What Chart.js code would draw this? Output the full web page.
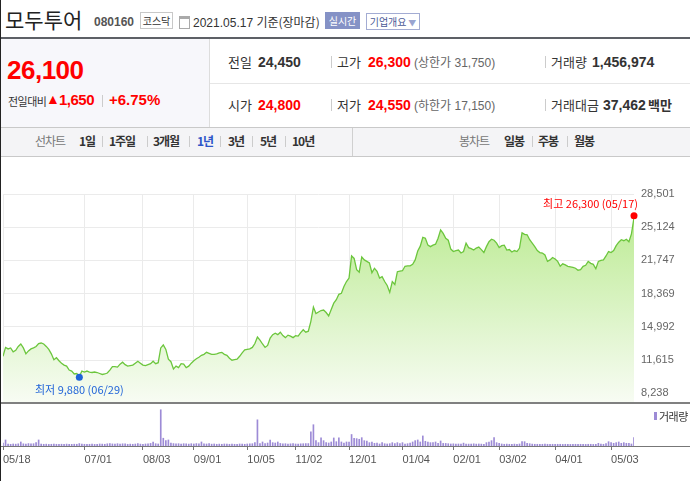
<!DOCTYPE html>
<html>
<head>
<meta charset="utf-8">
<script src="https://cdn.jsdelivr.net/npm/chart.js@4.4.1/dist/chart.umd.min.js"></script>
<style>
  body { margin: 0; width: 690px; height: 481px; overflow: hidden; background: #fff; position: relative;
         font-family: "Liberation Sans", "Noto Sans CJK KR", sans-serif; color: #333; }
  .a { position: absolute; white-space: nowrap; line-height: 16px; }
  .kr { font-family: "Noto Sans CJK KR", sans-serif; }
  .num { font-weight: bold; font-size: 14px; }
  .red { color: #f00; }
  .sep { position: absolute; width: 1px; background: #ccc; }
  .tab { position: absolute; top: 133px; font-size: 12px; line-height: 16px; font-weight: bold; letter-spacing: -1px; font-family: "Noto Sans CJK KR", sans-serif; color: #333; }
  .tab.g { font-weight: normal; color: #777; }
  .tab.on { color: #2d55c8; }
  canvas { position: absolute; left: 0; }
</style>
</head>
<body>
<!-- 상단 종목명 -->
<div class="a kr" style="left:5px;top:7px;font-size:21px;line-height:24px;color:#222">모두투어</div>
<div class="a" style="left:94px;top:14px;font-size:12px;font-weight:bold;color:#555">080160</div>
<div class="a kr" style="left:140px;top:12px;width:31px;height:15px;border:1px solid #c8c8c8;font-size:10px;line-height:15px;text-align:center">코스닥</div>
<div class="a" style="left:179px;top:16px;width:9px;height:9px;border:1px solid #aaa;border-top:3px solid #aaa"></div>
<div class="a" style="left:193px;top:14px;font-size:12px;color:#333">2021.05.17 <span class="kr">기준(장마감)</span></div>
<div class="a kr" style="left:325px;top:12px;width:35px;height:17px;background:#8592c6;color:#fff;font-size:10px;line-height:17px;text-align:center">실시간</div>
<div class="a kr" style="left:366px;top:13px;width:52px;height:15px;border:1px solid #a3acd3;color:#4b5a96;font-size:10px;line-height:15px;text-align:center">기업개요<span style="color:#9aa5d0;font-size:8px"> ▼</span></div>
<div class="a" style="left:0;top:37px;width:690px;height:2px;background:#5d6066"></div>

<!-- 현재가 -->
<div class="a" style="left:1px;top:39px;width:208px;height:88px;background:#f7f7fb;border-right:1px solid #ddd"></div>
<div class="a red" style="left:7px;top:57px;font-size:26px;line-height:26px;font-weight:bold;letter-spacing:-0.5px">26,100</div>
<div class="a kr" style="left:8px;top:93px;font-size:11px;color:#333;letter-spacing:-0.5px">전일대비</div>
<div class="a red" style="left:46px;top:91px;font-size:14px;line-height:17px">▲</div>
<div class="a red" style="left:59px;top:92px;font-size:15px;font-weight:bold;letter-spacing:-0.5px">1,650</div>
<div class="sep" style="left:102px;top:95px;height:12px"></div>
<div class="a red" style="left:109px;top:92px;font-size:15px;font-weight:bold">+6.75%</div>

<!-- 시세 -->
<div class="a" style="left:210px;top:83px;width:480px;height:1px;background:#e6e6e6"></div>
<div class="a kr" style="left:228px;top:54px;font-size:13px">전일</div>
<div class="a num" style="left:258px;top:54px">24,450</div>
<div class="sep" style="left:331px;top:56px;height:12px"></div>
<div class="a kr" style="left:337px;top:54px;font-size:13px">고가</div>
<div class="a num red" style="left:368px;top:54px">26,300</div>
<div class="a" style="left:414px;top:54px;font-size:12px;color:#666">(<span class="kr">상한가</span> 31,750)</div>
<div class="sep" style="left:545px;top:56px;height:12px"></div>
<div class="a kr" style="left:551px;top:54px;font-size:13px">거래량</div>
<div class="a num" style="left:592px;top:54px">1,456,974</div>

<div class="a kr" style="left:228px;top:97px;font-size:13px">시가</div>
<div class="a num red" style="left:258px;top:97px">24,800</div>
<div class="sep" style="left:331px;top:99px;height:12px"></div>
<div class="a kr" style="left:337px;top:97px;font-size:13px">저가</div>
<div class="a num red" style="left:368px;top:97px">24,550</div>
<div class="a" style="left:414px;top:97px;font-size:12px;color:#666">(<span class="kr">하한가</span> 17,150)</div>
<div class="sep" style="left:545px;top:99px;height:12px"></div>
<div class="a kr" style="left:551px;top:97px;font-size:13px">거래대금</div>
<div class="a num" style="left:603px;top:97px">37,462</div>
<div class="a kr" style="left:648px;top:97px;font-size:13px;font-weight:bold">백만</div>

<!-- 차트 탭 -->
<div class="a" style="left:0;top:127px;width:690px;height:28px;background:#f4f4f6;border-top:1px solid #c9c9c9;border-bottom:1px solid #c9c9c9"></div>
<div class="sep" style="left:352px;top:128px;height:28px;background:#d0d0d0"></div>
<div class="tab g" style="left:35px">선차트</div>
<div class="tab" style="left:79px">1일</div>
<div class="sep" style="left:102px;top:136px;height:11px"></div>
<div class="tab" style="left:109px">1주일</div>
<div class="sep" style="left:147px;top:136px;height:11px"></div>
<div class="tab" style="left:153px">3개월</div>
<div class="sep" style="left:189px;top:136px;height:11px"></div>
<div class="tab on" style="left:197px">1년</div>
<div class="sep" style="left:220px;top:136px;height:11px"></div>
<div class="tab" style="left:228px">3년</div>
<div class="sep" style="left:252px;top:136px;height:11px"></div>
<div class="tab" style="left:260px">5년</div>
<div class="sep" style="left:285px;top:136px;height:11px"></div>
<div class="tab" style="left:292px">10년</div>
<div class="tab g" style="left:459px">봉차트</div>
<div class="tab" style="left:504px">일봉</div>
<div class="sep" style="left:532px;top:136px;height:11px"></div>
<div class="tab" style="left:538px">주봉</div>
<div class="sep" style="left:567px;top:136px;height:11px"></div>
<div class="tab" style="left:574px">월봉</div>

<!-- 차트 -->
<canvas id="priceChart" width="690" height="224" style="top:180px"></canvas>
<canvas id="volumeChart" width="690" height="77" style="top:404px"></canvas>
<div class="a" style="left:0;top:402px;width:690px;height:2px;background:#808080"></div>
<div class="a" style="left:0;top:446px;width:690px;height:1px;background:#777"></div>
<div class="a" style="left:654px;top:412px;width:3px;height:8px;background:#9d8bd6"></div>
<div class="a kr" style="left:659px;top:408px;font-size:11px;color:#333;letter-spacing:-0.5px">거래량</div>
<div class="a" style="left:0;top:0;width:1px;height:481px;background:#222"></div>

<script>
// 종가 (2020.05.18 ~ 2021.05.17, 거래일 순서)
const prices = [
  12000,12900,12750,12850,12450,12600,13000,13250,12850,12250,
  12550,12750,12850,13000,13300,13350,13250,13000,12700,12250,
  11650,11850,11550,11300,11100,11000,10600,10500,10200,10250,
  9950,10500,10400,10500,10400,10350,10400,10350,10250,10150,
  10200,10300,10600,10950,10950,10900,11200,11400,11150,11000,
  11050,11100,11300,11500,11300,11100,11050,11150,11250,11500,
  11250,11350,12850,13150,12700,11700,11450,10700,11000,10850,
  11250,11200,10850,11000,11300,11550,11750,11900,12100,12200,
  12400,12300,12200,12200,12250,12350,12400,12200,12100,11800,
  11600,11650,11700,12000,12350,12650,12700,12750,12900,13300,
  13950,13650,13250,12900,13100,13850,14200,14350,14200,14450,
  14100,13900,14150,14050,13900,14100,14050,14400,14700,14450,
  14550,15550,17000,16350,16500,16650,16700,16450,16100,16750,
  17400,17750,18300,18400,19100,19600,19950,22200,21950,20800,
  20550,22100,21800,21650,21500,20500,20950,20650,19950,20100,
  19600,19200,18500,19600,19300,20600,20650,20700,21150,21200,
  21200,21350,21800,22700,23200,24100,24000,23300,23150,23300,
  23400,24000,24850,24500,24000,23800,22900,22650,22750,22800,
  22500,22650,23500,23050,22950,22800,23000,23100,22850,22550,
  23150,23650,23900,23800,23500,23050,23250,23300,22800,22850,
  22600,22750,22650,23000,24550,24400,24350,23850,23500,23150,
  22750,22550,22500,22300,21650,21800,22050,21900,21650,21150,
  21400,21300,21150,21100,21050,20950,20750,20800,21150,21250,
  21650,21450,21350,20900,21650,21750,21800,22200,22650,22550,
  22750,23250,23600,23850,23750,23900,23650,24450,26100
];

// 거래량 (천주)
const volumes = [
  520,1050,330,300,350,320,380,700,380,330,
  420,360,400,580,1050,330,300,320,280,300,
  330,300,280,310,300,330,300,290,310,300,
  420,330,300,280,300,320,280,300,350,330,
  300,380,420,360,350,400,330,380,360,300,
  330,300,340,400,330,300,350,380,450,700,
  400,350,6300,1350,930,1050,500,420,380,400,
  350,400,380,330,400,350,420,380,700,380,
  350,400,320,350,300,330,300,350,330,300,
  320,300,300,350,330,300,350,380,400,580,
  4550,400,700,400,520,1050,580,520,700,450,
  380,400,350,380,400,350,330,380,400,420,
  420,2450,3700,930,580,1400,930,580,520,700,
  1400,750,1400,700,500,700,700,2000,1350,1280,
  1170,1450,930,875,580,700,470,500,350,580,
  400,350,400,580,400,580,400,580,350,400,
  500,700,930,1050,700,1750,820,700,580,580,
  700,450,875,450,450,400,350,380,330,350,
  330,500,350,330,350,380,330,350,330,300,
  580,700,930,1450,580,470,350,300,330,300,
  300,330,300,350,750,750,470,400,330,300,
  300,280,300,330,300,280,300,280,300,300,
  280,300,300,280,300,300,280,300,300,280,
  300,300,280,300,470,350,300,400,750,580,
  470,580,700,470,580,470,470,350,1457
];

// x축 눈금 (거래일 인덱스) / 라벨
const tickDays = [0, 32, 55, 75, 96, 115, 136, 157, 177, 195, 217, 239];
const tickLabels = ['05/18', '07/01', '08/03', '09/01', '10/05', '11/02', '12/01', '01/04', '02/01', '03/02', '04/01', '05/03'];
const priceTicks = [8238, 11615, 14992, 18369, 21747, 25124, 28501];

const highPoint = { day: 248, value: 26300, label: '최고 26,300 (05/17)' };
const lowPoint = { day: 30, value: 9880, label: '최저 9,880 (06/29)' };

Chart.defaults.font.family = '"Liberation Sans", "Noto Sans CJK KR", sans-serif';
Chart.defaults.font.size = 11;

const lastDay = prices.length - 1;

// 최고/최저 표시 텍스트
const markLabels = {
    id: 'markLabels',
    afterDatasetsDraw(chart) {
        const { ctx, scales: { x, y } } = chart;
        ctx.save();
        ctx.font = '11px "Noto Sans CJK KR", sans-serif';
        ctx.textBaseline = 'middle';
        ctx.fillStyle = '#ff0000';
        ctx.textAlign = 'right';
        ctx.fillText(highPoint.label, x.getPixelForValue(highPoint.day) + 4, y.getPixelForValue(highPoint.value) - 12);
        ctx.fillStyle = '#1f63d8';
        ctx.textAlign = 'center';
        ctx.fillText(lowPoint.label, x.getPixelForValue(lowPoint.day), y.getPixelForValue(lowPoint.value) + 13);
        ctx.restore();
    }
};

new Chart(document.getElementById('priceChart'), {
    type: 'line',
    data: {
        datasets: [{
            data: prices.map((v, i) => ({ x: i, y: v })),
            borderColor: '#6cc63d',
            borderWidth: 1.3,
            pointRadius: 0,
            fill: 'start',
            order: 1,
            backgroundColor: (c) => {
                const area = c.chart.chartArea;
                if (!area) return '#dff5cc';
                const g = c.chart.ctx.createLinearGradient(0, area.top, 0, area.bottom);
                g.addColorStop(0, '#b6e98a');
                g.addColorStop(1, '#f8fcf4');
                return g;
            }
        }, {
            type: 'scatter',
            data: [{ x: highPoint.day, y: highPoint.value }],
            pointRadius: 3.5,
            backgroundColor: '#ff0000',
            borderWidth: 0,
            clip: false,
            order: 0
        }, {
            type: 'scatter',
            data: [{ x: lowPoint.day, y: lowPoint.value }],
            pointRadius: 3.5,
            backgroundColor: '#1f63d8',
            borderWidth: 0,
            clip: false,
            order: 0
        }]
    },
    options: {
        responsive: false,
        animation: false,
        layout: { autoPadding: false, padding: { left: 3, top: 14, right: 0, bottom: 1 } },
        plugins: { legend: { display: false }, tooltip: { enabled: false } },
        scales: {
            x: {
                type: 'linear',
                min: 0,
                max: lastDay,
                afterBuildTicks: (s) => { s.ticks = tickDays.map(v => ({ value: v })); },
                ticks: { display: false },
                grid: { color: '#ebebeb', drawTicks: false },
                border: { display: false },
                afterFit: (s) => { s.height = 0; s.paddingLeft = 0; s.paddingRight = 0; }
            },
            y: {
                position: 'right',
                min: 7250,
                max: 28501,
                afterBuildTicks: (s) => { s.ticks = priceTicks.map(v => ({ value: v })); },
                ticks: { color: '#666', padding: 7, callback: (v) => v.toLocaleString('en-US') },
                grid: { color: '#ebebeb', drawTicks: false },
                border: { display: false },
                afterFit: (s) => { s.width = 56; s.paddingTop = 0; s.paddingBottom = 0; }
            }
        }
    },
    plugins: [markLabels]
});

new Chart(document.getElementById('volumeChart'), {
    type: 'bar',
    data: {
        datasets: [{
            data: volumes.map((v, i) => ({ x: i, y: v })),
            backgroundColor: '#9d8bd6',
            barThickness: 1
        }]
    },
    options: {
        responsive: false,
        animation: false,
        layout: { autoPadding: false, padding: { left: 3, top: 0, right: 56, bottom: 0 } },
        plugins: { legend: { display: false }, tooltip: { enabled: false } },
        scales: {
            x: {
                type: 'linear',
                offset: false,
                min: 0,
                max: lastDay,
                afterBuildTicks: (s) => { s.ticks = tickDays.map(v => ({ value: v })); },
                ticks: {
                    color: '#555',
                    align: 'start',
                    padding: 3,
                    maxRotation: 0,
                    callback: (v) => tickLabels[tickDays.indexOf(v)]
                },
                grid: { offset: false, drawOnChartArea: false, tickLength: 4, color: '#777' },
                border: { display: false },
                afterFit: (s) => { s.height = 35; s.paddingLeft = 0; s.paddingRight = 0; }
            },
            y: { display: false, min: 0, max: 7300 }
        }
    }
});
</script>
</body>
</html>
